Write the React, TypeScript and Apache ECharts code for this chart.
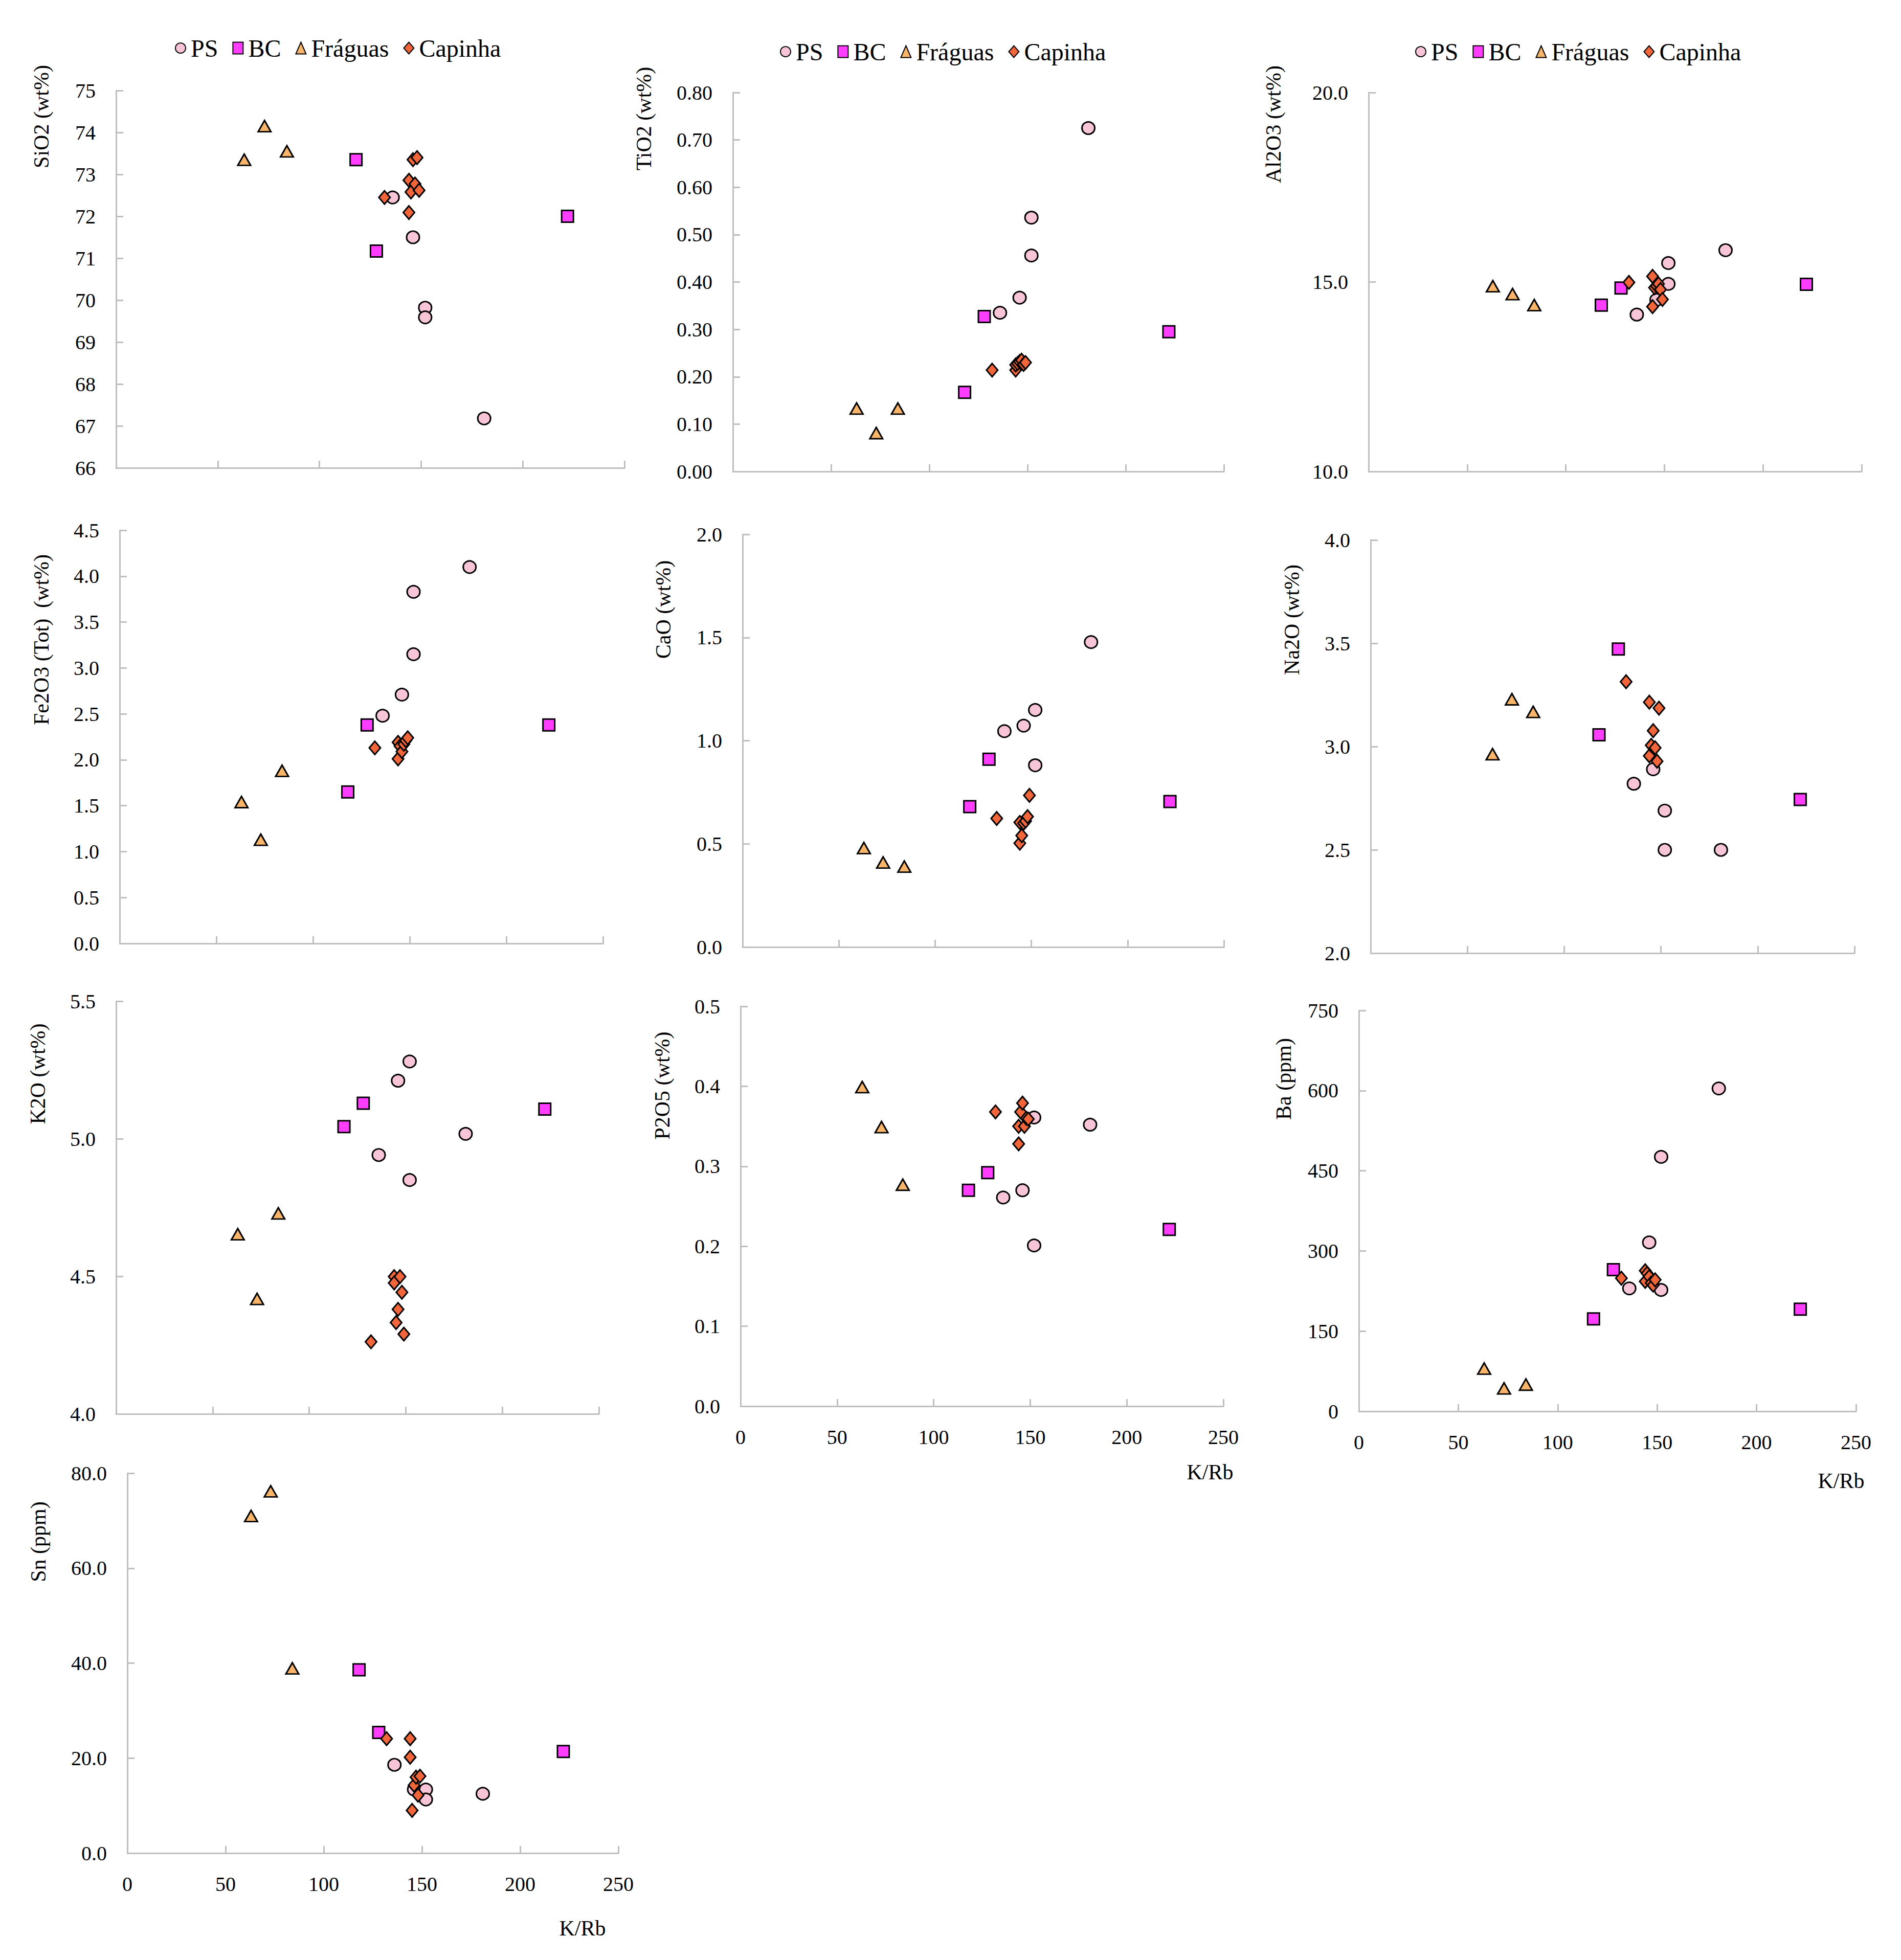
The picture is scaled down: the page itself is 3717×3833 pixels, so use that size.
import React, { useEffect, useRef } from "react";
import * as echarts from "echarts";

// K/Rb (x) per sample group
const psX = [136, 146, 152, 152, 181];
const bcX = [118, 128, 222];
const frX = [63, 73, 84];
const caX = [132, 144, 144, 145, 146, 147, 148, 149];

// SiO2
const sioPS = [72.45, 71.5, 69.82, 69.59, 67.18];
const sioBC = [73.35, 71.17, 72.0];
const sioFR = [73.35, 74.15, 73.55];
const sioCA = [72.45, 72.86, 72.09, 72.58, 73.35, 72.77, 73.4, 72.62];
// TiO2
const tioPS = [0.335, 0.367, 0.536, 0.456, 0.725];
const tioBC = [0.167, 0.327, 0.295];
const tioFR = [0.133, 0.081, 0.133];
const tioCA = [0.214, 0.214, 0.225, 0.228, 0.232, 0.235, 0.226, 0.23];
// Al2O3
const alPS = [14.14, 14.53, 15.5, 14.95, 15.84];
const alBC = [14.39, 14.84, 14.94];
const alFR = [14.89, 14.68, 14.39];
const alCA = [14.99, 15.15, 14.35, 14.85, 14.9, 14.95, 14.8, 14.54];
// Fe2O3
const fePS = [2.48, 2.71, 3.83, 3.15, 4.1];
const feBC = [1.65, 2.38, 2.38];
const feFR = [1.54, 1.13, 1.88];
const feCA = [2.13, 2.01, 2.19, 2.15, 2.09, 2.17, 2.21, 2.24];
// CaO
const caoPS = [1.046, 1.073, 1.149, 0.881, 1.478];
const caoBC = [0.68, 0.91, 0.705];
const caoFR = [0.48, 0.41, 0.39];
const caoCA = [0.623, 0.604, 0.503, 0.54, 0.6, 0.61, 0.632, 0.735];
// Na2O
const naPS = [2.82, 2.89, 2.69, 2.5, 2.5];
const naBC = [3.057, 3.472, 2.744];
const naFR = [2.963, 3.229, 3.168];
const naCA = [3.314, 3.215, 2.955, 3.006, 3.077, 2.994, 2.929, 3.186];
// K2O
const kPS = [4.941, 5.211, 5.281, 4.85, 5.018];
const kBC = [5.044, 5.129, 5.108];
const kFR = [4.653, 4.418, 4.729];
const kCA = [4.262, 4.499, 4.476, 4.332, 4.38, 4.499, 4.442, 4.29];
// P2O5
const pPS = [0.261, 0.27, 0.361, 0.201, 0.352];
const pBC = [0.27, 0.292, 0.221];
const pFR = [0.399, 0.349, 0.277];
const pCA = [0.368, 0.35, 0.328, 0.368, 0.379, 0.35, 0.36, 0.359];
// Ba
const baPS = [230, 316, 476, 227, 604];
const baBC = [173, 265, 191];
const baFR = [80, 43, 50];
const baCA = [249, 263, 243, 258, 252, 240, 236, 246];
// Sn
const snPS = [18.6, 13.4, 13.4, 11.3, 12.5];
const snBC = [38.6, 25.4, 21.4];
const snFR = [71.0, 76.2, 38.9];
const snCA = [24.1, 24.1, 20.2, 9.0, 14.3, 16.0, 12.2, 16.2];

const groupNames = ["PS", "BC", "Fráguas", "Capinha"];
const xTicks = { min: 0, max: 250, interval: 50 };

const panelData = [
  { title: "SiO2 (wt%)", min: 66, max: 75, interval: 1, dec: 0, vals: [sioPS, sioBC, sioFR, sioCA] },
  { title: "TiO2 (wt%)", min: 0, max: 0.8, interval: 0.1, dec: 2, vals: [tioPS, tioBC, tioFR, tioCA] },
  { title: "Al2O3 (wt%)", min: 10, max: 20, interval: 5, dec: 1, vals: [alPS, alBC, alFR, alCA] },
  { title: "Fe2O3 (Tot)  (wt%)", min: 0, max: 4.5, interval: 0.5, dec: 1, vals: [fePS, feBC, feFR, feCA] },
  { title: "CaO (wt%)", min: 0, max: 2, interval: 0.5, dec: 1, vals: [caoPS, caoBC, caoFR, caoCA] },
  { title: "Na2O (wt%)", min: 2, max: 4, interval: 0.5, dec: 1, vals: [naPS, naBC, naFR, naCA] },
  { title: "K2O (wt%)", min: 4, max: 5.5, interval: 0.5, dec: 1, vals: [kPS, kBC, kFR, kCA] },
  { title: "P2O5 (wt%)", min: 0, max: 0.5, interval: 0.1, dec: 1, vals: [pPS, pBC, pFR, pCA] },
  { title: "Ba (ppm)", min: 0, max: 750, interval: 150, dec: 0, vals: [baPS, baBC, baFR, baCA] },
  { title: "Sn (ppm)", min: 0, max: 80, interval: 20, dec: 1, vals: [snPS, snBC, snFR, snCA] },
];

// layout (pixels): [left, top, width, height]
const grids = [
  [227, 177, 994, 738],
  [1433, 181, 960, 741],
  [2676, 181, 964, 741],
  [234, 1037, 945, 808],
  [1452, 1045, 941, 807],
  [2680, 1056, 946, 808],
  [227, 1958, 944, 807],
  [1448, 1968, 944, 782],
  [2657, 1976, 972, 784],
  [249, 2881, 960, 743],
];
const titlePos = [
  [81, 228], [1259, 232], [2490, 243],
  [81, 1251], [1297, 1192], [2526, 1212],
  [74, 2100], [1295, 2123], [2510, 2110],
  [75, 3015],
];
const showXLabels = [false, false, false, false, false, false, false, true, true, true];
const kRbPos = [[2366, 2879], [3600, 2896], [1139, 3771]];
const legendPos = [[337, 65], [1520, 72], [2762, 72]];

const groupX = [psX, bcX, frX, caX];
const symbols = ["circle", "rect", "triangle", "diamond"];
const sizes: any[] = [[25, 24], [23, 23], [25, 22], [22, 26]];
const colors = ["#F7C4D8", "#FF3DFF", "#F8B56A", "#F0663A"];

const FONT = "Liberation Serif";
const AXIS_GRAY = "#BFBFBF";

function buildOption() {
  const grid: any[] = [];
  const xAxis: any[] = [];
  const yAxis: any[] = [];
  const series: any[] = [];
  const graphic: any[] = [];

  panelData.forEach((p, i) => {
    const [l, t, w, h] = grids[i];
    grid.push({ left: l, top: t, width: w, height: h, containLabel: false });
    xAxis.push({
      type: "value",
      gridIndex: i,
      min: xTicks.min,
      max: xTicks.max,
      interval: xTicks.interval,
      axisLine: { show: true, lineStyle: { color: AXIS_GRAY, width: 3 } },
      axisTick: { show: true, inside: true, length: 14, lineStyle: { color: AXIS_GRAY, width: 3 } },
      splitLine: { show: false },
      axisLabel: {
        show: showXLabels[i],
        margin: 40,
        fontFamily: FONT,
        fontSize: 40,
        color: "#000",
      },
    });
    yAxis.push({
      type: "value",
      gridIndex: i,
      min: p.min,
      max: p.max,
      interval: p.interval,
      axisLine: { show: true, lineStyle: { color: AXIS_GRAY, width: 3 } },
      axisTick: { show: true, inside: true, length: 14, lineStyle: { color: AXIS_GRAY, width: 3 } },
      splitLine: { show: false },
      axisLabel: {
        margin: 40,
        fontFamily: FONT,
        fontSize: 40,
        color: "#000",
        formatter: (v: number) => v.toFixed(p.dec),
      },
    });
    p.vals.forEach((ys, g) => {
      series.push({
        type: "scatter",
        name: groupNames[g],
        xAxisIndex: i,
        yAxisIndex: i,
        symbol: symbols[g],
        symbolSize: sizes[g],
        itemStyle: { color: colors[g], borderColor: "#000", borderWidth: 3, opacity: 1 },
        data: ys.map((y, k) => [groupX[g][k], y]),
        z: 2 + g,
      });
    });
    graphic.push({
      type: "text",
      x: titlePos[i][0],
      y: titlePos[i][1],
      rotation: Math.PI / 2,
      style: {
        text: p.title,
        fontFamily: FONT,
        fontSize: 42,
        fill: "#000",
        textAlign: "center",
        textVerticalAlign: "middle",
      },
    });
  });

  kRbPos.forEach(([x, y]) => {
    graphic.push({
      type: "text",
      x,
      y,
      style: {
        text: "K/Rb",
        fontFamily: FONT,
        fontSize: 42,
        fill: "#000",
        textAlign: "center",
        textVerticalAlign: "middle",
      },
    });
  });

  const legend = legendPos.map(([l, t]) => ({
    left: l,
    top: t,
    data: groupNames,
    itemWidth: 20,
    itemHeight: 23,
    itemGap: 28,
    selectedMode: false,
    textStyle: { fontFamily: FONT, fontSize: 48, color: "#000", padding: [0, 0, 0, 5] },
  }));

  return {
    animation: false,
    backgroundColor: "#ffffff",
    legend,
    grid,
    xAxis,
    yAxis,
    series,
    graphic,
  };
}

export default function App() {
  const ref = useRef<HTMLDivElement>(null);
  useEffect(() => {
    document.body.style.margin = "0";
    const chart = echarts.init(ref.current as HTMLDivElement, null, { renderer: "svg" });
    chart.setOption(buildOption() as any);
    return () => chart.dispose();
  }, []);
  return <div ref={ref} style={{ width: 3717, height: 3833, background: "#fff" }} />;
}
